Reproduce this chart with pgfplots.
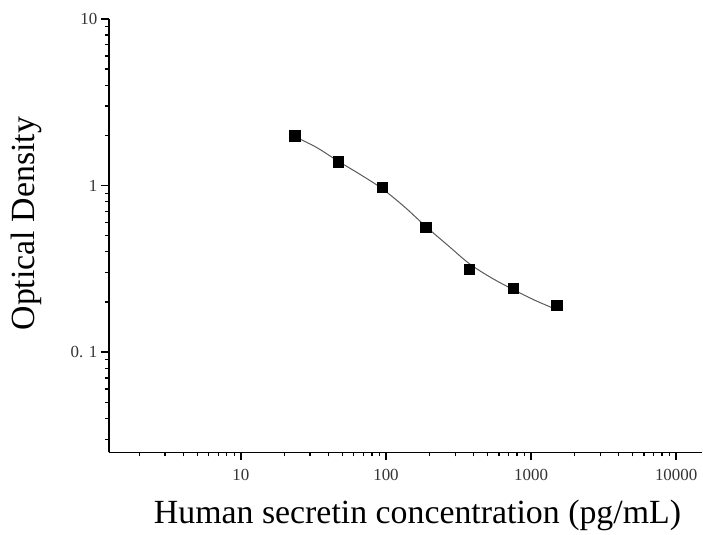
\documentclass[border=0pt]{standalone}
\usepackage{pgfplots}
\pgfplotsset{compat=1.18}
\usepackage{fontspec}
\setmainfont{Liberation Serif}

\begin{document}
\begin{tikzpicture}
\begin{axis}[
    scale only axis,
    width=594bp, height=434bp,
    xmode=log, ymode=log,
    xmin=1.23, xmax=15100,
    ymin=0.025, ymax=10,
    axis x line*=bottom,
    axis y line*=left,
    axis line style={line width=1.8bp},
    tick align=outside,
    major tick length=8bp,
    minor tick length=4bp,
    tick style={black, line width=1.3bp},
    xtick={10,100,1000,10000},
    xticklabels={10,100,1000,10000},
    minor xtick={2,3,4,5,6,7,8,9,20,30,40,50,60,70,80,90,200,300,400,500,600,700,800,900,2000,3000,4000,5000,6000,7000,8000,9000},
    ytick={0.1,1,10},
    yticklabels={0. 1,1,10},
    minor ytick={0.03,0.04,0.05,0.06,0.07,0.08,0.09,0.2,0.3,0.4,0.5,0.6,0.7,0.8,0.9,2,3,4,5,6,7,8,9},
    tick label style={font=\fontsize{17}{19}\selectfont, text=black!80},
    xticklabel style={yshift=-5bp},
    xlabel={Human secretin concentration (pg/mL)},
    ylabel={Optical Density},
    label style={font=\fontsize{34}{38}\selectfont},
    xlabel style={at={(axis description cs:0.5202,-0.1452)}, anchor=center},
    ylabel style={at={(axis description cs:-0.1397,0.5276)}, anchor=center},
]
\coordinate (sw) at (rel axis cs:0,0);
\coordinate (ne) at (rel axis cs:1,1);
% fitted curve
\addplot[smooth, line width=1bp, color=black!65] coordinates {
    (23.44,1.97) (33,1.70) (46.88,1.40) (66,1.17) (93.75,0.96)
    (133,0.75) (187.5,0.57) (265,0.44) (375,0.340) (530,0.280)
    (750,0.238) (1060,0.205) (1500,0.180)
};
% standards
\addplot[only marks, mark=square*, mark size=5.2bp, color=black] coordinates {
    (23.44,1.99) (46.88,1.39) (93.75,0.98) (187.5,0.56)
    (375,0.314) (750,0.242) (1500,0.191)
};
\end{axis}
\path[use as bounding box] ([shift={(-109bp,-78bp)}]sw) rectangle ([shift={(0bp,19bp)}]ne);
\end{tikzpicture}
\end{document}
